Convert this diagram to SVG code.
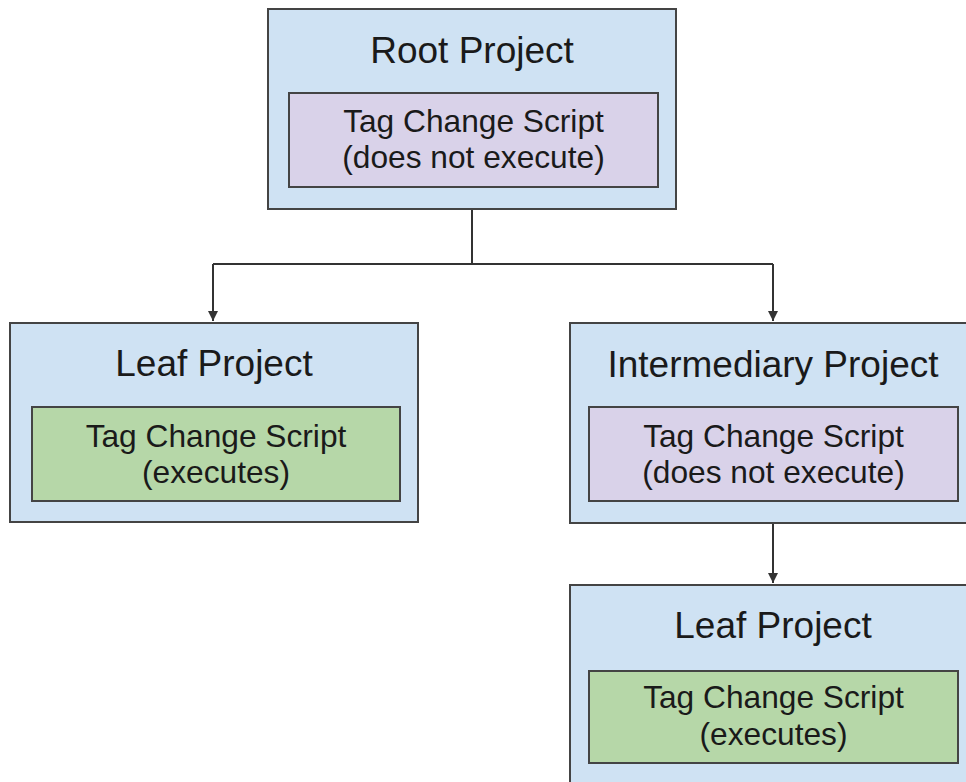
<svg xmlns="http://www.w3.org/2000/svg" width="966" height="782" viewBox="0 0 966 782">
<style>
.outer{fill:#cfe2f3;stroke:#444;stroke-width:2}
.purple{fill:#d9d2e9;stroke:#444;stroke-width:2}
.green{fill:#b6d7a8;stroke:#444;stroke-width:2}
.title{font-family:"Liberation Sans",Arial,sans-serif;font-size:37px;fill:#1a1a1a;text-anchor:middle}
.body{font-family:"Liberation Sans",Arial,sans-serif;font-size:31.7px;fill:#1a1a1a;text-anchor:middle}
.conn{fill:none;stroke:#333;stroke-width:2}
</style>
<defs>
<marker id="arr" viewBox="0 0 10 10" refX="10" refY="5" markerWidth="5" markerHeight="5" orient="auto" markerUnits="strokeWidth">
<path d="M0,0 L10,5 L0,10 z" fill="#333"/>
</marker>
</defs>
<rect width="966" height="782" fill="#fff"/>
<g id="connectors">
<path class="conn" d="M472,209 V264 M213,264 H773"/>
<path class="conn" d="M213,264 V321" marker-end="url(#arr)"/>
<path class="conn" d="M773,264 V321" marker-end="url(#arr)"/>
<path class="conn" d="M773,523 V583" marker-end="url(#arr)"/>
</g>
<g id="root">
<rect class="outer" x="268" y="9" width="408" height="200"/>
<text class="title" x="472" y="63">Root Project</text>
<rect class="purple" x="289" y="93" width="369" height="94"/>
<text class="body" x="473.5" y="132">Tag Change Script</text>
<text class="body" x="473.5" y="168">(does not execute)</text>
</g>
<g id="leaf-left">
<rect class="outer" x="10" y="323" width="408" height="199"/>
<text class="title" x="214" y="376">Leaf Project</text>
<rect class="green" x="32" y="407" width="368" height="94"/>
<text class="body" x="216" y="447">Tag Change Script</text>
<text class="body" x="216" y="483">(executes)</text>
</g>
<g id="intermediary">
<rect class="outer" x="570" y="323" width="408" height="200"/>
<text class="title" x="773" y="377">Intermediary Project</text>
<rect class="purple" x="589" y="407" width="369" height="94"/>
<text class="body" x="773.5" y="447">Tag Change Script</text>
<text class="body" x="773.5" y="483">(does not execute)</text>
</g>
<g id="leaf-right">
<rect class="outer" x="570" y="585" width="408" height="210"/>
<text class="title" x="773" y="638">Leaf Project</text>
<rect class="green" x="589" y="671" width="369" height="92"/>
<text class="body" x="773.5" y="708">Tag Change Script</text>
<text class="body" x="773.5" y="745">(executes)</text>
</g>
</svg>
